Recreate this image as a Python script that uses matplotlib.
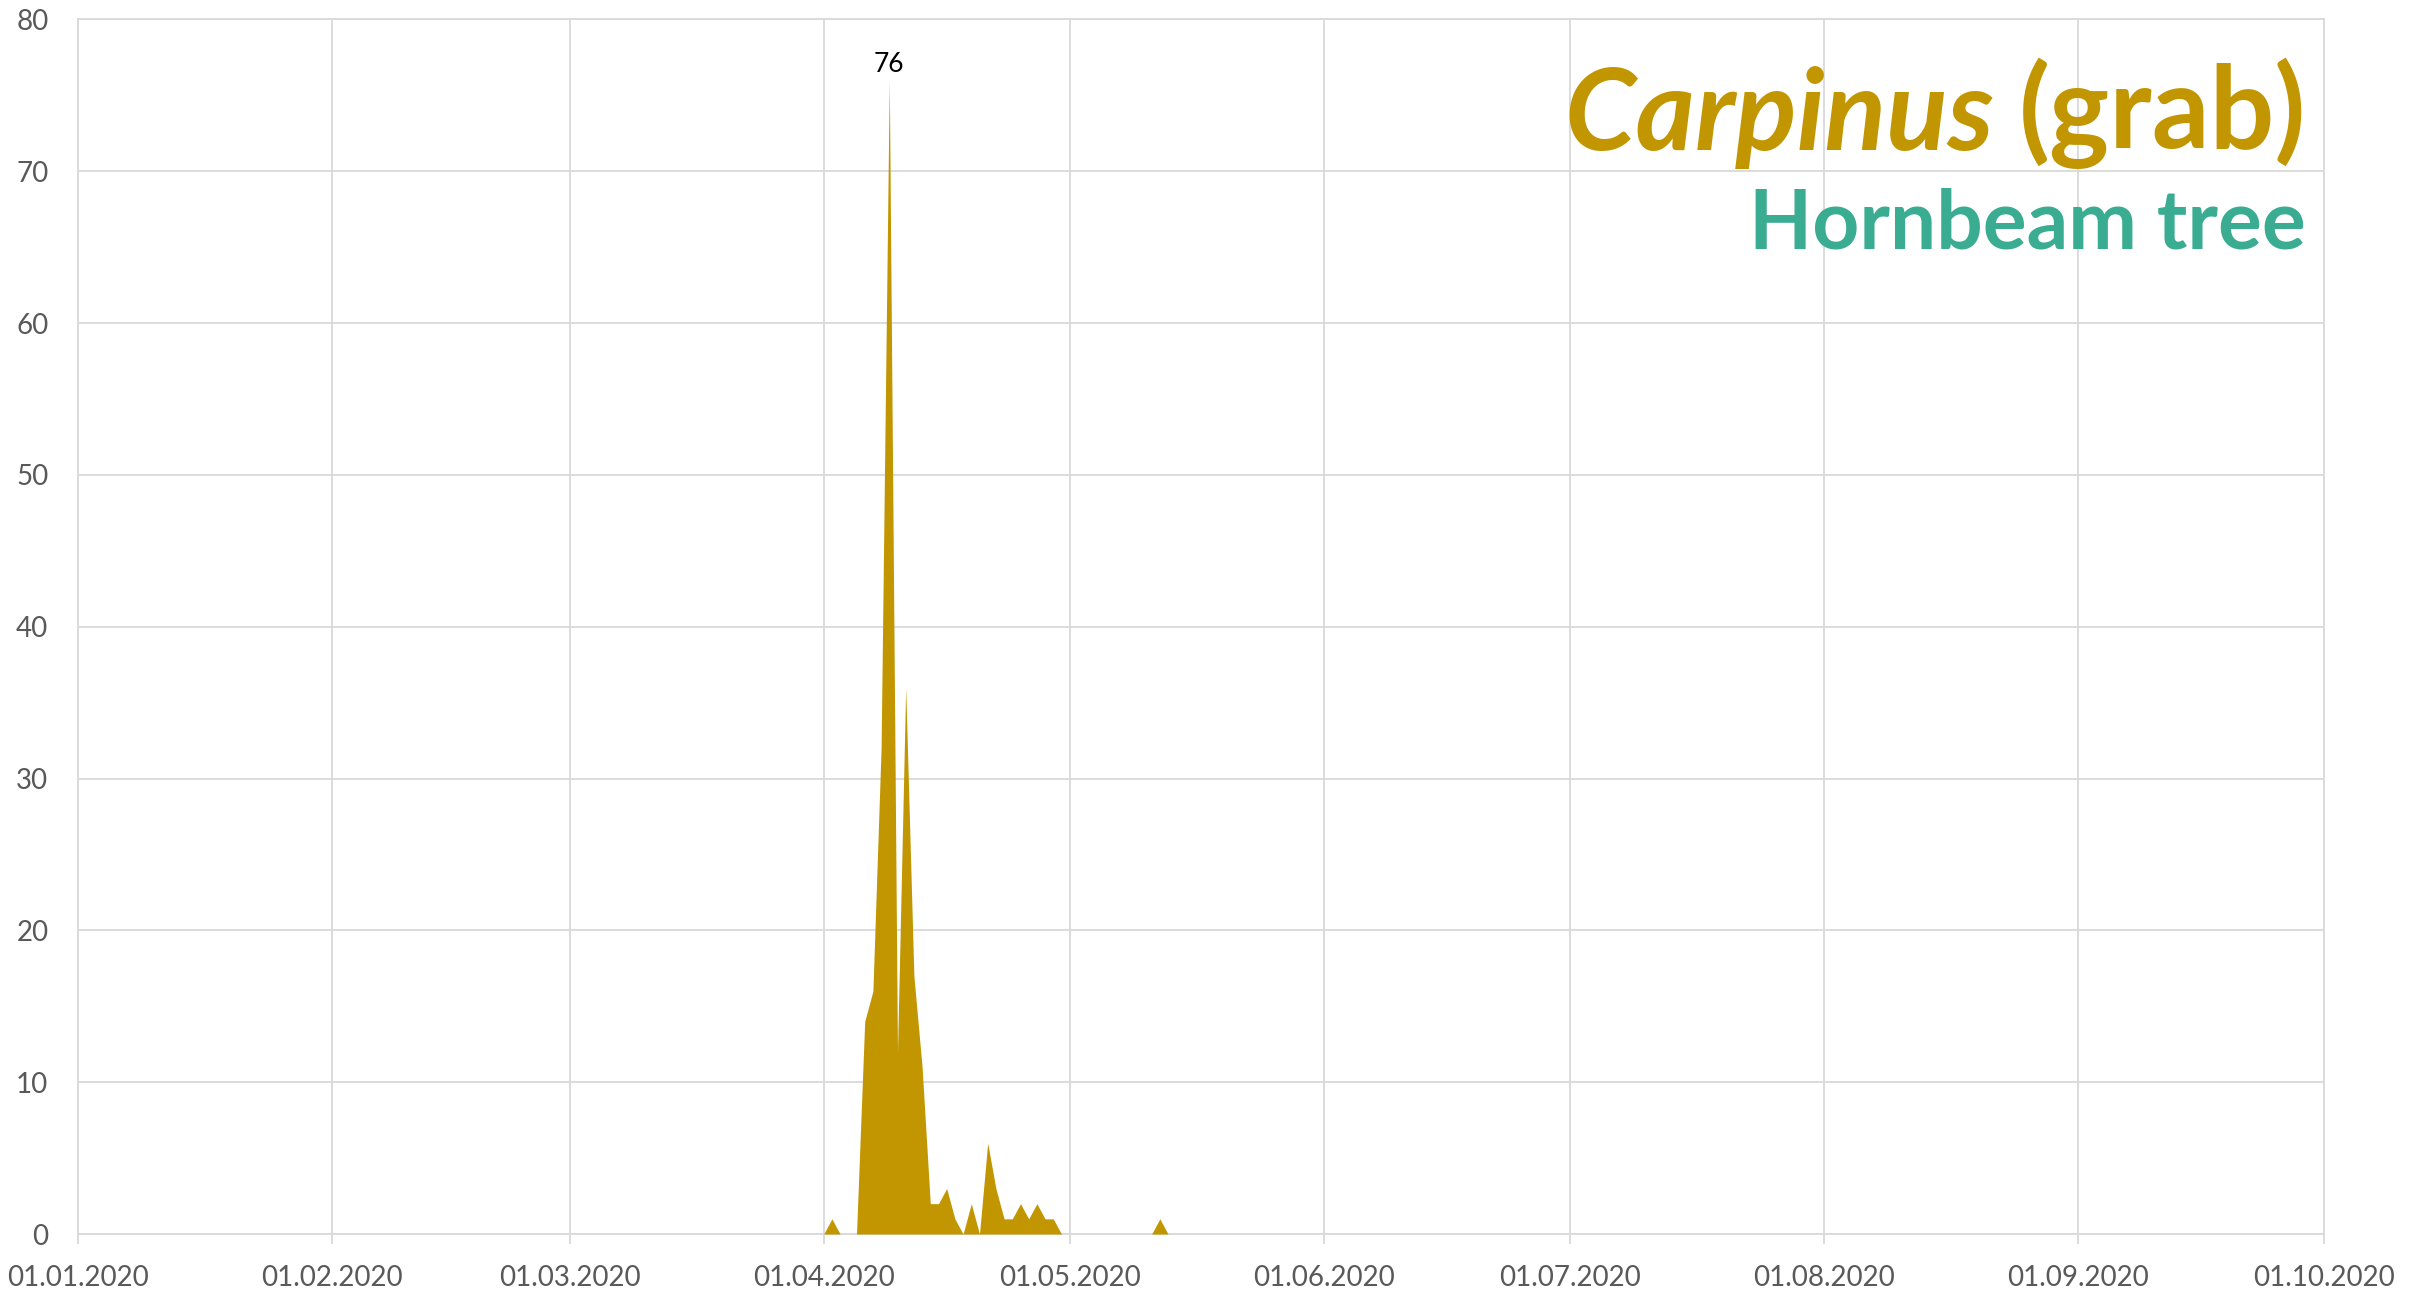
#!/usr/bin/env python3
"""Stężenie pyłku grabu (Carpinus) 2020 - wykres powierzchniowy dzienny."""

import matplotlib
matplotlib.use("Agg")
import matplotlib.pyplot as plt
import matplotlib.dates as mdates
import numpy as np
import pandas as pd

# okres pomiarowy i dzienne wartości w sezonie (poza nim 0)
PERIOD_START = "2020-01-01"
PERIOD_END = "2020-10-01"
SEASON_START = "2020-04-01"
SEASON_COUNTS = [0, 1, 0, 0, 0, 14, 16, 32, 76, 12,      # 01.04 - 10.04
                 36, 17, 11, 2, 2, 3, 1, 0, 2, 0,        # 11.04 - 20.04
                 6, 3, 1, 1, 2, 1, 2, 1, 1, 0,           # 21.04 - 30.04
                 0, 0, 0, 0, 0, 0, 0, 0, 0, 0,           # 01.05 - 10.05
                 0, 1, 0]                                # 11.05 - 13.05
Y_TICKS = [0, 10, 20, 30, 40, 50, 60, 70, 80]

GOLD = "#C29600"
TEAL = "#3AAC91"
GRID = "#D9D9D9"
LABEL = "#595959"
FONT = ["Lato", "DejaVu Sans"]


def main():
    days = pd.date_range(PERIOD_START, PERIOD_END, freq="D")
    season = pd.Series(SEASON_COUNTS,
                       index=pd.date_range(SEASON_START, periods=len(SEASON_COUNTS), freq="D"))
    counts = season.reindex(days).fillna(0)

    plt.rcParams["font.family"] = FONT
    fig = plt.figure(figsize=(24.25, 12.93), dpi=100)
    ax = fig.add_axes([0.032, 0.0456, 0.9264, 0.9394])

    ax.fill_between(counts.index, 0, counts.values, color=GOLD, lw=0, zorder=3)

    peak_day = counts.idxmax()
    ax.annotate(f"{counts.max():.0f}", xy=(peak_day, counts.max()), xytext=(0, 2),
                textcoords="offset points", ha="center", va="bottom",
                fontsize=19, color="black", zorder=4)

    ax.set_xlim(pd.Timestamp(PERIOD_START), pd.Timestamp(PERIOD_END))
    ax.set_ylim(Y_TICKS[0], Y_TICKS[-1])
    ax.set_yticks(Y_TICKS)
    ax.xaxis.set_major_locator(mdates.MonthLocator())
    ax.xaxis.set_major_formatter(mdates.DateFormatter("%d.%m.%Y"))

    ax.grid(True, color=GRID, lw=1.3, zorder=0)
    ax.set_axisbelow(True)
    for s in ax.spines.values():
        s.set_color(GRID)
        s.set_linewidth(1.3)
    ax.tick_params(axis="x", length=7, width=1.3, color=GRID, labelsize=20,
                   labelcolor=LABEL, pad=15)
    ax.tick_params(axis="y", length=0, labelsize=20, labelcolor=LABEL, pad=21)

    # tytuł: łacina kursywą + nazwa polska, pod spodem nazwa angielska
    grab = ax.text(0.992, 0.894, "(grab)", transform=ax.transAxes, ha="right",
                   va="baseline", fontsize=82, fontweight="bold", color=GOLD, zorder=5)
    ax.annotate("Carpinus ", xy=(0, 0), xycoords=grab, ha="right", va="bottom",
                fontsize=82, fontweight="bold", fontstyle="italic", color=GOLD, zorder=5)
    ax.text(0.992, 0.811, "Hornbeam tree", transform=ax.transAxes, ha="right",
            va="baseline", fontsize=59, fontweight="bold", color=TEAL, zorder=5)

    fig.savefig("out.png", dpi=100, facecolor="white")


if __name__ == "__main__":
    main()
